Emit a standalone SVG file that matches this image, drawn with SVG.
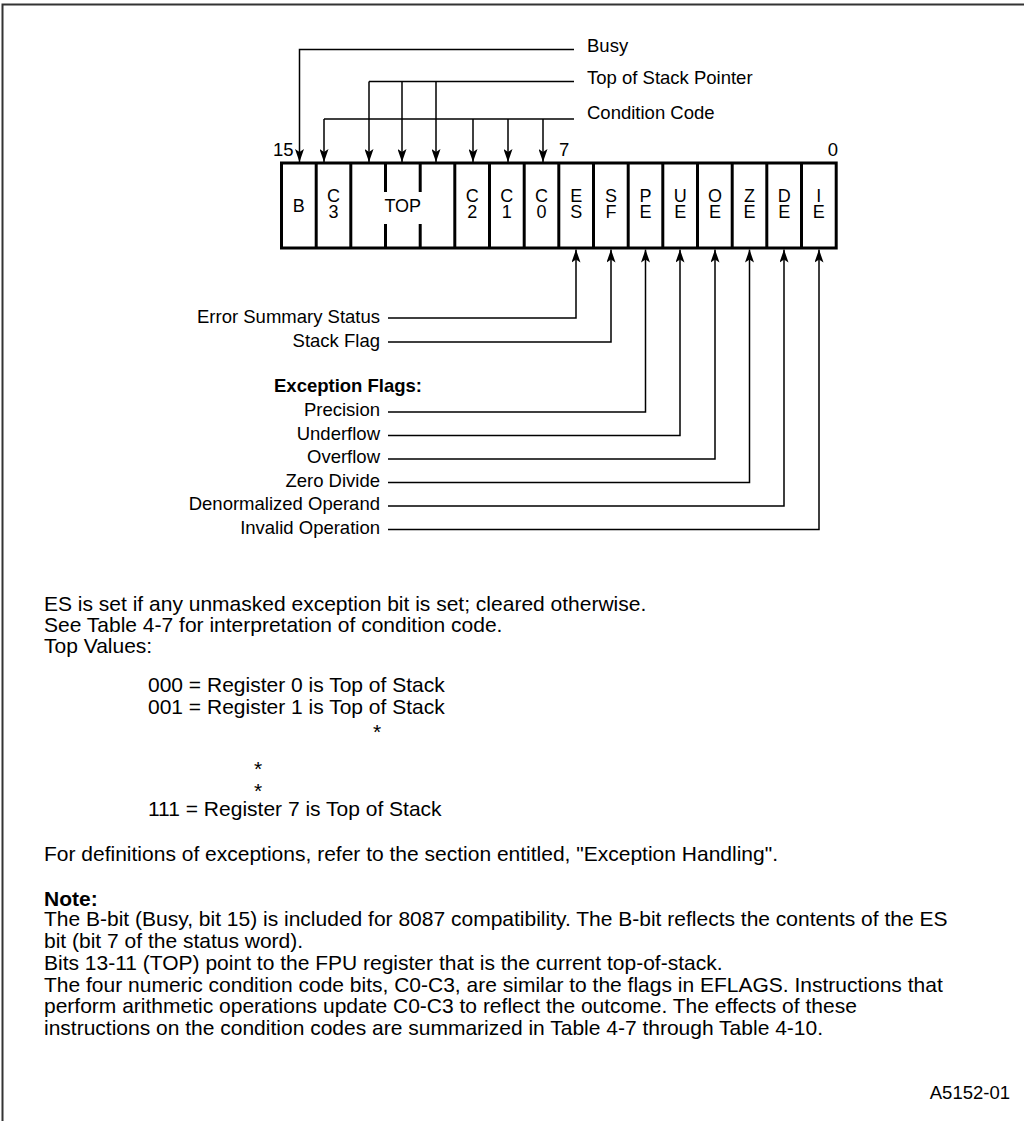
<svg xmlns="http://www.w3.org/2000/svg" width="1024" height="1121" viewBox="0 0 1024 1121">
<style>
text{font-family:"Liberation Sans",Arial,Helvetica,sans-serif;font-size:18.5px;fill:#000}
.cell{font-size:18px;text-anchor:middle}
.lbl{text-anchor:end}
.b{font-weight:bold}
.txt{font-size:21px}
.box{fill:#fff;stroke:#000;stroke-width:3}
.div{stroke:#000;stroke-width:3}
.con{fill:none;stroke:#000;stroke-width:1.5}
.frame{stroke:#333;stroke-width:2;fill:none}
</style>
<defs>
<marker id="ah" viewBox="0 0 13 9" refX="13" refY="4.5" markerWidth="13" markerHeight="9" orient="auto" markerUnits="userSpaceOnUse">
<path d="M0,0 L13,4.5 L0,9 L3,4.5 Z" fill="#000"/>
</marker>
</defs>
<rect width="1024" height="1121" fill="#fff"/>
<path class="frame" d="M2.5,1121 V4.5 H1024"/>

<g id="register">
<rect class="box" x="281.5" y="163" width="554.7" height="85"/>
<g class="divs">
<line class="div" x1="316.2" y1="163" x2="316.2" y2="248"/>
<line class="div" x1="350.8" y1="163" x2="350.8" y2="248"/>
<line class="div" x1="385.5" y1="163" x2="385.5" y2="192"/>
<line class="div" x1="420.2" y1="163" x2="420.2" y2="192"/>
<line class="div" x1="385.5" y1="224" x2="385.5" y2="248"/>
<line class="div" x1="420.2" y1="224" x2="420.2" y2="248"/>
<line class="div" x1="454.8" y1="163" x2="454.8" y2="248"/>
<line class="div" x1="489.5" y1="163" x2="489.5" y2="248"/>
<line class="div" x1="524.2" y1="163" x2="524.2" y2="248"/>
<line class="div" x1="558.8" y1="163" x2="558.8" y2="248"/>
<line class="div" x1="593.5" y1="163" x2="593.5" y2="248"/>
<line class="div" x1="628.2" y1="163" x2="628.2" y2="248"/>
<line class="div" x1="662.8" y1="163" x2="662.8" y2="248"/>
<line class="div" x1="697.5" y1="163" x2="697.5" y2="248"/>
<line class="div" x1="732.2" y1="163" x2="732.2" y2="248"/>
<line class="div" x1="766.8" y1="163" x2="766.8" y2="248"/>
<line class="div" x1="801.5" y1="163" x2="801.5" y2="248"/>
</g>
<text class="cell" x="298.8" y="212">B</text>
<text class="cell" x="333.5" y="202">C<tspan x="333.5" y="218">3</tspan></text>
<text class="cell" x="402.8" y="212">TOP</text>
<text class="cell" x="472.2" y="202">C<tspan x="472.2" y="218">2</tspan></text>
<text class="cell" x="506.8" y="202">C<tspan x="506.8" y="218">1</tspan></text>
<text class="cell" x="541.5" y="202">C<tspan x="541.5" y="218">0</tspan></text>
<text class="cell" x="576.2" y="202">E<tspan x="576.2" y="218">S</tspan></text>
<text class="cell" x="610.9" y="202">S<tspan x="610.9" y="218">F</tspan></text>
<text class="cell" x="645.5" y="202">P<tspan x="645.5" y="218">E</tspan></text>
<text class="cell" x="680.2" y="202">U<tspan x="680.2" y="218">E</tspan></text>
<text class="cell" x="714.9" y="202">O<tspan x="714.9" y="218">E</tspan></text>
<text class="cell" x="749.5" y="202">Z<tspan x="749.5" y="218">E</tspan></text>
<text class="cell" x="784.2" y="202">D<tspan x="784.2" y="218">E</tspan></text>
<text class="cell" x="818.8" y="202">I<tspan x="818.8" y="218">E</tspan></text>
<text x="273" y="156">15</text>
<text x="559" y="156">7</text>
<text x="838" y="156" text-anchor="end">0</text>
</g>

<g id="connectors">
<path class="con" marker-end="url(#ah)" d="M574,49.5 H299.5 V162"/>
<path class="con" d="M574,81.5 H369"/>
<path class="con" marker-end="url(#ah)" d="M369,81.5 V162"/>
<path class="con" marker-end="url(#ah)" d="M402,81.5 V162"/>
<path class="con" marker-end="url(#ah)" d="M436,81.5 V162"/>
<path class="con" d="M574,119 H324"/>
<path class="con" marker-end="url(#ah)" d="M324,119 V162"/>
<path class="con" marker-end="url(#ah)" d="M473,119 V162"/>
<path class="con" marker-end="url(#ah)" d="M508,119 V162"/>
<path class="con" marker-end="url(#ah)" d="M543,119 V162"/>
<path class="con" marker-end="url(#ah)" d="M388,318 H576 V249.5"/>
<path class="con" marker-end="url(#ah)" d="M388,342 H611 V249.5"/>
<path class="con" marker-end="url(#ah)" d="M388,412 H645.5 V249.5"/>
<path class="con" marker-end="url(#ah)" d="M388,435.5 H680 V249.5"/>
<path class="con" marker-end="url(#ah)" d="M388,459 H715 V249.5"/>
<path class="con" marker-end="url(#ah)" d="M388,482.5 H749.5 V249.5"/>
<path class="con" marker-end="url(#ah)" d="M388,506 H784 V249.5"/>
<path class="con" marker-end="url(#ah)" d="M388,529.5 H819 V249.5"/>
</g>

<g id="labels-top">
<text x="587" y="52">Busy</text>
<text x="587" y="84">Top of Stack Pointer</text>
<text x="587" y="119">Condition Code</text>
</g>

<g id="labels-bottom">
<text class="lbl" x="380" y="323">Error Summary Status</text>
<text class="lbl" x="380" y="347">Stack Flag</text>
<text class="b" x="274" y="392">Exception Flags:</text>
<text class="lbl" x="380" y="416">Precision</text>
<text class="lbl" x="380" y="440">Underflow</text>
<text class="lbl" x="380" y="463">Overflow</text>
<text class="lbl" x="380" y="487">Zero Divide</text>
<text class="lbl" x="380" y="510">Denormalized Operand</text>
<text class="lbl" x="380" y="534">Invalid Operation</text>
</g>

<g id="notes" class="txt">
<text class="txt" x="44" y="610.5">ES is set if any unmasked exception bit is set; cleared otherwise.</text>
<text class="txt" x="44" y="631.5">See Table 4-7 for interpretation of condition code.</text>
<text class="txt" x="44" y="652.5">Top Values:</text>
<text class="txt" x="148" y="691.5">000 = Register 0 is Top of Stack</text>
<text class="txt" x="148" y="713.5">001 = Register 1 is Top of Stack</text>
<text class="txt" x="373" y="739">*</text>
<text class="txt" x="254" y="776">*</text>
<text class="txt" x="254" y="798">*</text>
<text class="txt" x="148" y="815.5">111 = Register 7 is Top of Stack</text>
<text class="txt" x="44" y="860.5">For definitions of exceptions, refer to the section entitled, "Exception Handling".</text>
<text class="txt b" x="44" y="905.5">Note:</text>
<text class="txt" x="44" y="925.5">The B-bit (Busy, bit 15) is included for 8087 compatibility. The B-bit reflects the contents of the ES</text>
<text class="txt" x="44" y="947.5">bit (bit 7 of the status word).</text>
<text class="txt" x="44" y="969.5">Bits 13-11 (TOP) point to the FPU register that is the current top-of-stack.</text>
<text class="txt" x="44" y="991.5">The four numeric condition code bits, C0-C3, are similar to the flags in EFLAGS. Instructions that</text>
<text class="txt" x="44" y="1012.5">perform arithmetic operations update C0-C3 to reflect the outcome. The effects of these</text>
<text class="txt" x="44" y="1034.5">instructions on the condition codes are summarized in Table 4-7 through Table 4-10.</text>
<text x="1010" y="1099" text-anchor="end" font-size="15">A5152-01</text>
</g>
</svg>
